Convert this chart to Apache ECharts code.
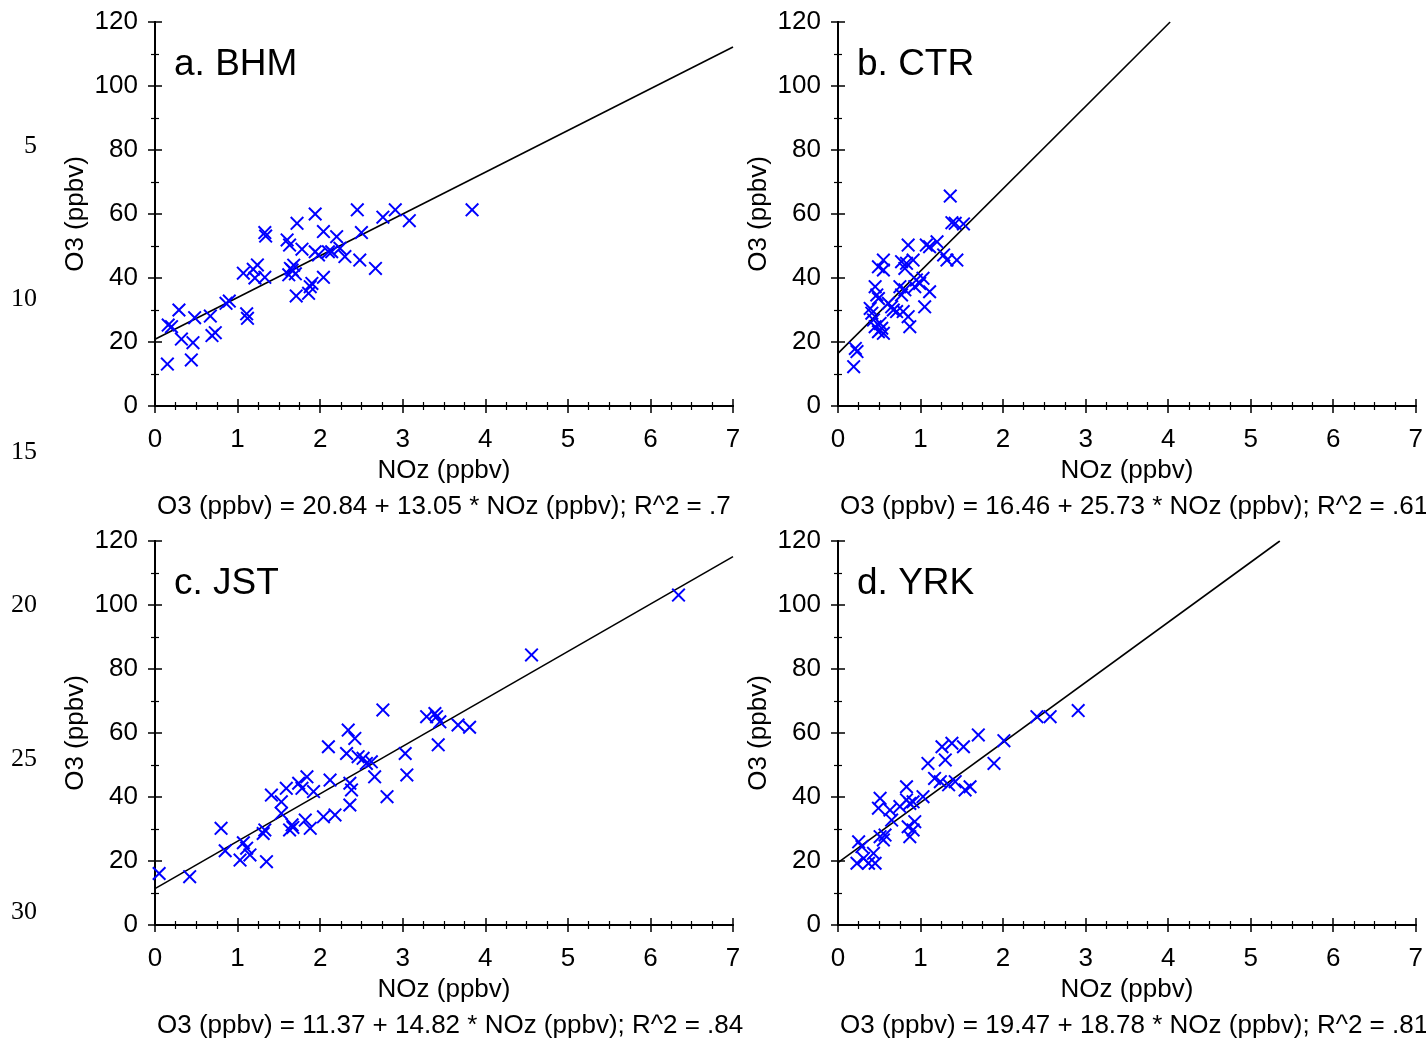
<!DOCTYPE html>
<html><head><meta charset="utf-8">
<script src="https://cdn.jsdelivr.net/npm/echarts@6/dist/echarts.min.js"></script>
<style>html,body{margin:0;padding:0;background:#fff}#c{width:1426px;height:1040px}</style>
</head><body><div id="c"></div>
<script>
// ---- data ----
const panelTitles = ['a. BHM', 'b. CTR', 'c. JST', 'd. YRK'];
const intercepts = [20.84, 16.46, 11.37, 19.47];
const slopes = [13.05, 25.73, 14.82, 18.78];
const r2Labels = ['.7', '.61', '.84', '.81'];
const lineNumbers = ['5', '10', '15', '20', '25', '30'];
const xTicks = [0, 1, 2, 3, 4, 5, 6, 7];
const yTicks = [0, 20, 40, 60, 80, 100, 120];

const bhmNOz = [0.15,0.44,0.16,0.2,0.29,0.32,0.46,0.48,0.67,0.69,0.73,0.86,0.9,1.11,1.12,1.07,1.19,1.24,1.33,1.33,1.34,1.6,1.63,1.64,1.66,1.7,1.72,1.71,1.78,1.86,1.9,1.94,1.94,1.98,2.04,2.04,2.1,2.14,2.2,2.24,2.3,2.45,2.48,2.5,2.67,2.76,2.91,3.08,3.84,1.68,1.88,1.62,1.21];
const bhmO3 = [13.1,14.4,25.3,24.8,30,20.9,19.8,27.6,28.1,22,22.9,32.1,32.8,28.8,27.4,41.5,42.7,44.1,40.2,54.2,53.1,51.9,50.3,43,42.5,41.3,57.1,34.4,49,35.2,38.3,60,48.2,47.2,40.2,54.5,48.2,48.2,52.9,49.3,46.7,61.3,45.6,54.2,43,59,61.3,57.9,61.3,44,37.3,41,40];

const ctrNOz = [0.19,0.21,0.23,1.36,1.38,1.42,1.52,1.44,1.32,1.28,1.2,1.11,1.07,1.05,1.11,1.03,0.99,0.95,0.93,0.91,0.85,0.83,0.81,0.77,0.75,0.81,0.79,0.85,0.87,0.55,0.49,0.55,0.45,0.47,0.49,0.39,0.41,0.43,0.45,0.49,0.53,0.55,0.61,0.65,0.67,0.71,0.77,0.51];
const ctrO3 = [12.3,18,17,65.6,57.3,57.1,56.9,45.6,45.6,47.2,51.3,49.8,50.3,31,35.7,39.9,38.3,39.4,37.3,45.6,50.3,44.6,43,45.1,37.3,36.3,29.5,27.9,24.8,45.6,43.5,42.5,37.3,34.7,33.6,30.5,29,26.9,24.8,23.2,24.3,22.7,32.1,31,30,29.5,34.7,25.8];

const jstNOz = [0.05,0.42,0.8,0.85,1.03,1.07,1.11,1.15,1.35,1.31,1.33,1.41,1.53,1.53,1.59,1.63,1.66,1.67,1.74,1.78,1.84,1.82,1.88,1.92,2.04,2.1,2.12,2.18,2.32,2.34,2.36,2.36,2.38,2.42,2.46,2.52,2.56,2.62,2.66,2.76,2.81,3.03,3.05,3.29,3.39,3.41,3.45,3.43,3.67,3.81,4.56,6.34];
const jstO3 = [16.1,15.1,30.2,23.2,20.3,25.7,24,21.9,19.8,28.6,29.7,40.6,38.5,34.9,42.7,29.7,31.3,30.5,44.3,42.7,46.3,32.8,30.2,41.7,33.8,55.7,45.3,34.4,53.6,60.9,44.3,37.5,42.2,58.3,52.6,52.1,50.5,51,46.3,67.2,40.1,53.6,46.9,65.1,66.1,65.1,63.5,56.3,62.5,61.8,84.4,103.1];

const yrkNOz = [0.25,0.29,0.23,0.31,0.37,0.45,0.43,0.51,0.55,0.57,0.51,0.49,0.63,0.65,0.75,0.83,0.83,0.87,0.91,0.85,0.91,0.87,0.93,1.03,1.09,1.17,1.24,1.26,1.3,1.34,1.38,1.42,1.52,1.54,1.6,1.7,1.89,2.01,2.41,2.57,2.91];
const yrkO3 = [26,24.5,19.3,20.8,19.3,19.3,22.4,27.6,26.6,28.1,39.6,36.5,35.9,32.8,37,43.2,39.1,38,38.5,30.7,29.7,27.6,32.3,40.1,50.5,45.8,44.8,55.7,51.6,43.8,56.8,44.8,55.7,42.2,43.2,59.4,50.5,57.6,65.1,65.1,67];

// ---- layout ----
const xs = [bhmNOz, ctrNOz, jstNOz, yrkNOz];
const ys = [bhmO3, ctrO3, jstO3, yrkO3];
const gridPos = [[155, 22], [838, 22], [155, 541], [838, 541]];
const GW = 578, GH = 384;
const FONT = '"Liberation Sans", Arial, sans-serif';
const FS = 26;
const XMIN = xTicks[0], XMAX = xTicks[xTicks.length - 1];
const YMIN = yTicks[0], YMAX = yTicks[yTicks.length - 1];
const XSYM = 'path://M0,10 L10,0 L50,40 L90,0 L100,10 L60,50 L100,90 L90,100 L50,60 L10,100 L0,90 L40,50 Z';

const grids = [], xAxes = [], yAxes = [], series = [], graphics = [];
const axisLine = { show: true, lineStyle: { color: '#000', width: 2 } };
const tick = { show: true, length: 7, lineStyle: { color: '#000', width: 1.5 } };
const minorX = { show: true, splitNumber: 4, length: 4, lineStyle: { color: '#000', width: 1.2 } };
const minorY = { show: true, splitNumber: 2, length: 4, lineStyle: { color: '#000', width: 1.2 } };

for (let i = 0; i < 4; i++) {
  const [L, T] = gridPos[i];
  grids.push({ left: L, top: T, width: GW, height: GH, containLabel: false });
  xAxes.push({
    gridIndex: i, type: 'value', position: 'bottom', min: XMIN, max: XMAX, interval: 1,
    axisLine, axisTick: tick, minorTick: minorX, splitLine: { show: false },
    axisLabel: { show: true, fontSize: FS, color: '#000', fontFamily: FONT, margin: 21 },
    name: 'NOz (ppbv)', nameLocation: 'middle', nameGap: 52,
    nameTextStyle: { fontSize: FS, color: '#000', fontFamily: FONT }
  });
  xAxes.push({
    gridIndex: i, type: 'value', position: 'top', min: XMIN, max: XMAX, interval: 1,
    axisLine, axisTick: tick, minorTick: minorX, splitLine: { show: false },
    axisLabel: { show: false }
  });
  yAxes.push({
    gridIndex: i, type: 'value', position: 'left', min: YMIN, max: YMAX, interval: 20,
    axisLine, axisTick: tick, minorTick: minorY, splitLine: { show: false },
    axisLabel: { show: true, fontSize: FS, color: '#000', fontFamily: FONT, margin: 17 },
    name: 'O3 (ppbv)', nameLocation: 'middle', nameGap: 66, nameRotate: 90,
    nameTextStyle: { fontSize: FS, color: '#000', fontFamily: FONT }
  });
  yAxes.push({
    gridIndex: i, type: 'value', position: 'right', min: YMIN, max: YMAX, interval: 20,
    axisLine, axisTick: tick, minorTick: minorY, splitLine: { show: false },
    axisLabel: { show: false }
  });

  // regression line from the fitted coefficients
  const a = intercepts[i], b = slopes[i];
  const xEnd = Math.min(XMAX, (YMAX - a) / b);
  series.push({
    type: 'line', xAxisIndex: 2 * i, yAxisIndex: 2 * i,
    data: [[XMIN, a + b * XMIN], [xEnd, a + b * xEnd]],
    symbol: 'none', lineStyle: { color: '#000', width: 1.6 }, z: 3, silent: true
  });
  series.push({
    type: 'scatter', xAxisIndex: 2 * i, yAxisIndex: 2 * i,
    data: xs[i].map((v, k) => [v, ys[i][k]]),
    symbol: XSYM, symbolSize: 14,
    itemStyle: { color: '#0000ff', opacity: 1 }, z: 4, silent: true
  });

  graphics.push({
    type: 'text', left: L + 19, top: T + 24,
    style: { text: panelTitles[i], font: '37px ' + FONT, fill: '#000' }
  });
  graphics.push({
    type: 'text', left: L + 2, top: T + GH + 88,
    style: { text: 'O3 (ppbv) = ' + a.toFixed(2) + ' + ' + b.toFixed(2) + ' * NOz (ppbv); R^2 = ' + r2Labels[i],
      font: FS + 'px ' + FONT, fill: '#000' }
  });
}

lineNumbers.forEach((t, k) => {
  graphics.push({
    type: 'text', x: 37, y: 146 + k * 153.2,
    style: { text: t, font: '26px "Liberation Serif", "Times New Roman", serif', fill: '#000',
      align: 'right', verticalAlign: 'middle' }
  });
});

const chart = echarts.init(document.getElementById('c'), null, { renderer: 'canvas' });
chart.setOption({
  animation: false,
  backgroundColor: '#fff',
  grid: grids, xAxis: xAxes, yAxis: yAxes, series, graphic: graphics
});
</script></body></html>
